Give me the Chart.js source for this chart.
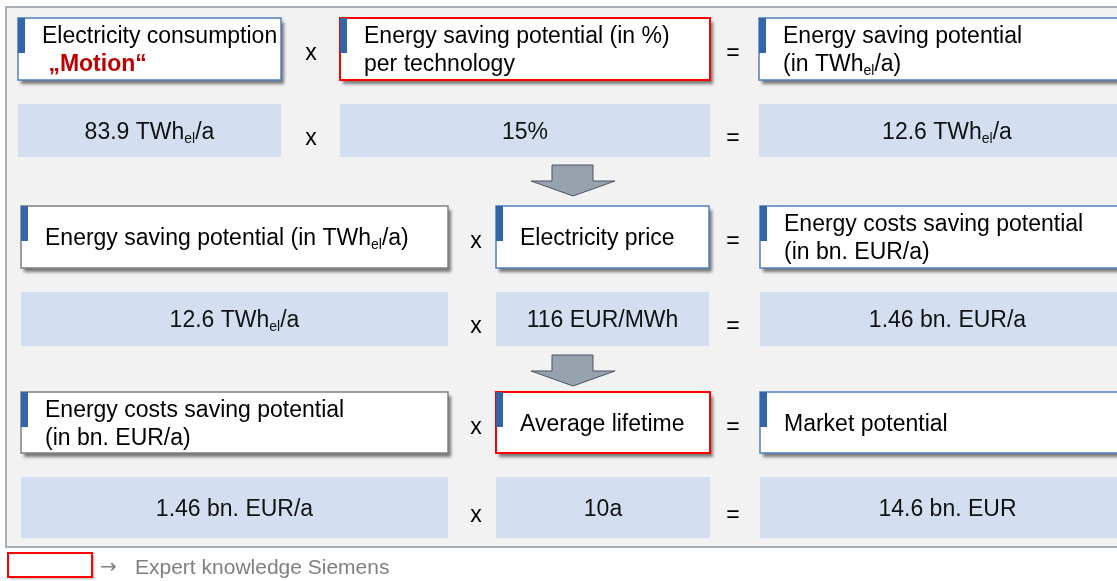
<!DOCTYPE html>
<html>
<head>
<meta charset="utf-8">
<script src="https://cdn.jsdelivr.net/npm/chart.js@4.4.1/dist/chart.umd.min.js"></script>
<style>
  html, body { margin: 0; padding: 0; background: #fff; }
  #wrap { width: 1117px; height: 581px; position: relative; }
</style>
</head>
<body>
<div id="wrap"><canvas id="canvas"></canvas></div>
<script>
// ---- content of the diagram ----
// "_xx" marks a subscript, a line starting with "*" is bold red
var headerRow1 = ['Electricity consumption\n* \u201eMotion\u201c', 'Energy saving potential (in %)\nper technology', 'Energy saving potential\n(in TWh_el/a)'];
var headerRow2 = ['Energy saving potential (in TWh_el/a)', 'Electricity price', 'Energy costs saving potential\n(in bn. EUR/a)'];
var headerRow3 = ['Energy costs saving potential\n(in bn. EUR/a)', 'Average lifetime', 'Market potential'];
var valueRow1 = ['83.9 TWh_el/a', '15%', '12.6 TWh_el/a'];
var valueRow2 = ['12.6 TWh_el/a', '116 EUR/MWh', '1.46 bn. EUR/a'];
var valueRow3 = ['1.46 bn. EUR/a', '10a', '14.6 bn. EUR'];
var operators = ['x', '='];
// which boxes come from expert knowledge (red frame)
var expertRow1 = [false, true, false];
var expertRow2 = [false, false, false];
var expertRow3 = [false, true, false];
var legendArrow = '\u2192';
var legendText = 'Expert knowledge Siemens';

var headers = [headerRow1, headerRow2, headerRow3];
var values = [valueRow1, valueRow2, valueRow3];
var experts = [expertRow1, expertRow2, expertRow3];

// ---- layout (in scale units, 0..1117 x 0..581) ----
var layout = {
    headTop: [18, 206, 392], headH: [62, 62, 61],
    valTop: [104, 292, 477], valH: [53, 54, 61],
    cols: [
        [[18, 281], [340, 710], [759, 1135]],
        [[21, 448], [496, 709], [760, 1135]],
        [[21, 448], [496, 710], [760, 1135]]
    ],
    opX: [[311, 733], [476, 733], [476, 733]],
    arrowX: 573, arrowTop: [165, 355]
};
// grey framed boxes (plain inputs carried from the previous step)
var greyFrame = [[false, false, false], [true, false, false], [true, false, false]];

var FONT = '"Liberation Sans", Arial, sans-serif';

function parseSegs(str) {
    var out = [], re = /_(\w+)/g, last = 0, m;
    while ((m = re.exec(str))) {
        if (m.index > last) out.push({t: str.slice(last, m.index), sub: false});
        out.push({t: m[1], sub: true});
        last = re.lastIndex;
    }
    if (last < str.length) out.push({t: str.slice(last), sub: false});
    return out;
}

function drawRich(ctx, str, x, y, align, size, weight, color) {
    var segs = parseSegs(str);
    var subSize = Math.round(size * 0.6);
    var w = 0;
    segs.forEach(function(s) {
        ctx.font = weight + ' ' + (s.sub ? subSize : size) + 'px ' + FONT;
        s.w = ctx.measureText(s.t).width;
        w += s.w;
    });
    var cx = align === 'center' ? x - w / 2 : x;
    ctx.fillStyle = color;
    ctx.textAlign = 'left';
    ctx.textBaseline = 'alphabetic';
    segs.forEach(function(s) {
        ctx.font = weight + ' ' + (s.sub ? subSize : size) + 'px ' + FONT;
        ctx.fillText(s.t, cx, s.sub ? y + 4 : y);
        cx += s.w;
    });
}

var diagramPlugin = {
    id: 'diagram',
    afterDraw: function(chart) {
        var ctx = chart.ctx;
        var xs = chart.scales.x, ys = chart.scales.y;
        function px(v) { return xs.getPixelForValue(v); }
        function py(v) { return ys.getPixelForValue(v); }
        ctx.save();

        // outer frame
        ctx.fillStyle = '#f2f2f2';
        ctx.fillRect(px(6), py(7), px(1125) - px(6), py(547) - py(7));
        ctx.strokeStyle = '#a7afb7';
        ctx.lineWidth = 2;
        ctx.strokeRect(px(6), py(7), px(1125) - px(6), py(547) - py(7));

        for (var r = 0; r < 3; r++) {
            var cols = layout.cols[r];
            // value boxes
            for (var c = 0; c < 3; c++) {
                var x0 = px(cols[c][0]), x1 = px(cols[c][1]);
                var y0 = py(layout.valTop[r]), y1 = py(layout.valTop[r] + layout.valH[r]);
                ctx.fillStyle = '#d3dff0';
                ctx.fillRect(x0, y0, x1 - x0, y1 - y0);
                drawRich(ctx, values[r][c], (x0 + x1) / 2, (y0 + y1) / 2 + 8, 'center', 23, 'normal', '#111');
            }
            // header boxes
            for (c = 0; c < 3; c++) {
                x0 = px(cols[c][0]); x1 = px(cols[c][1]);
                y0 = py(layout.headTop[r]); y1 = py(layout.headTop[r] + layout.headH[r]);
                ctx.save();
                ctx.shadowColor = 'rgba(0,0,0,0.5)';
                ctx.shadowBlur = 3;
                ctx.shadowOffsetX = 3;
                ctx.shadowOffsetY = 4;
                ctx.fillStyle = '#fff';
                ctx.fillRect(x0, y0, x1 - x0, y1 - y0);
                ctx.restore();
                ctx.lineWidth = experts[r][c] ? 2 : 1.5;
                ctx.strokeStyle = experts[r][c] ? '#ff0000' : (greyFrame[r][c] ? '#7f7f7f' : '#4f7fbf');
                ctx.strokeRect(x0, y0, x1 - x0, y1 - y0);
                // blue marker
                ctx.fillStyle = '#3465a8';
                ctx.fillRect(x0, y0, 7, 35);

                var lines = headers[r][c].split('\n');
                var mid = (y0 + y1) / 2;
                for (var i = 0; i < lines.length; i++) {
                    var ln = lines[i], bold = ln.charAt(0) === '*';
                    if (bold) ln = ln.slice(1);
                    var by = mid + 8 + (i - (lines.length - 1) / 2) * 28;
                    drawRich(ctx, ln, x0 + 24, by, 'left', 23, bold ? 'bold' : 'normal', bold ? '#c00000' : '#000');
                }
            }
            // operators
            for (var k = 0; k < 2; k++) {
                var ox = px(layout.opX[r][k]);
                var hm = py(layout.headTop[r] + layout.headH[r] / 2);
                var vm = py(layout.valTop[r] + layout.valH[r] / 2);
                ctx.font = '23px ' + FONT;
                ctx.fillStyle = '#000';
                ctx.textAlign = 'center';
                ctx.textBaseline = 'alphabetic';
                ctx.fillText(operators[k], ox, hm + 11);
                ctx.fillText(operators[k], ox, vm + 14);
            }
        }

        // down arrows
        layout.arrowTop.forEach(function(t) {
            var cx = layout.arrowX;
            ctx.beginPath();
            ctx.moveTo(px(cx - 21), py(t));
            ctx.lineTo(px(cx + 20), py(t));
            ctx.lineTo(px(cx + 20), py(t + 16));
            ctx.lineTo(px(cx + 42), py(t + 16));
            ctx.lineTo(px(cx), py(t + 31));
            ctx.lineTo(px(cx - 42), py(t + 16));
            ctx.lineTo(px(cx - 21), py(t + 16));
            ctx.closePath();
            ctx.fillStyle = '#97a2ae';
            ctx.fill();
            ctx.strokeStyle = '#4a5560';
            ctx.lineWidth = 1;
            ctx.stroke();
        });

        // legend
        ctx.save();
        ctx.shadowColor = 'rgba(0,0,0,0.3)';
        ctx.shadowBlur = 2;
        ctx.shadowOffsetX = 2;
        ctx.shadowOffsetY = 2;
        ctx.fillStyle = '#fff';
        ctx.fillRect(px(8), py(553), px(92) - px(8), py(577) - py(553));
        ctx.restore();
        ctx.strokeStyle = '#ff0000';
        ctx.lineWidth = 2;
        ctx.strokeRect(px(8), py(553), px(92) - px(8), py(577) - py(553));
        ctx.fillStyle = '#7f7f7f';
        ctx.textAlign = 'left';
        ctx.textBaseline = 'alphabetic';
        ctx.font = '20px "DejaVu Sans", sans-serif';
        ctx.fillText(legendArrow, px(100), py(573));
        ctx.font = '21px ' + FONT;
        ctx.fillText(legendText, px(135), py(574));

        ctx.restore();
    }
};

var config = {
    type: 'scatter',
    data: { datasets: [{ label: 'diagram', data: [] }] },
    options: {
        responsive: true,
        maintainAspectRatio: false,
        animation: false,
        layout: { padding: 0 },
        scales: {
            x: { type: 'linear', min: 0, max: 1117, display: false },
            y: { type: 'linear', min: 0, max: 581, reverse: true, display: false }
        },
        plugins: { legend: { display: false }, tooltip: { enabled: false } }
    },
    plugins: [diagramPlugin]
};

window.onload = function() {
    var ctx = document.getElementById('canvas').getContext('2d');
    window.myChart = new Chart(ctx, config);
};
</script>
</body>
</html>
